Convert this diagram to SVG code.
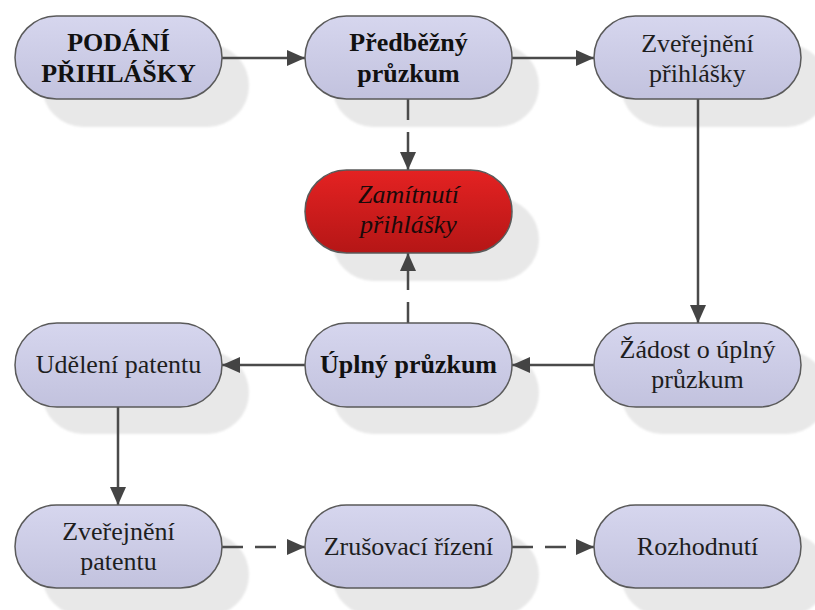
<svg xmlns="http://www.w3.org/2000/svg" width="815" height="610" viewBox="0 0 815 610">
<defs>
<linearGradient id="gb" x1="0" y1="0" x2="0" y2="1">
<stop offset="0" stop-color="#d6d6ee"/>
<stop offset="1" stop-color="#c2c2de"/>
</linearGradient>
<linearGradient id="gr" x1="0" y1="0" x2="0" y2="1">
<stop offset="0" stop-color="#e42222"/>
<stop offset="1" stop-color="#b51616"/>
</linearGradient>
<filter id="blur" x="-10%" y="-10%" width="120%" height="120%">
<feGaussianBlur stdDeviation="1.2"/>
</filter>
<marker id="ah" viewBox="0 0 18 16" refX="18" refY="8" markerWidth="18" markerHeight="16" markerUnits="userSpaceOnUse" orient="auto">
<path d="M0,0 L18,8 L0,16 z" fill="#444"/>
</marker>
</defs>
<style>
.sh{fill:#e8e8e8;filter:url(#blur)}
.n{fill:url(#gb);stroke:#5a5a5a;stroke-width:1.5}
.r{fill:url(#gr);stroke:#5a5a5a;stroke-width:1.5}
.c{stroke:#4a4a4a;stroke-width:2.5;fill:none;marker-end:url(#ah)}
.d{stroke-dasharray:21 12}
</style>
<rect width="815" height="610" fill="#ffffff"/>
<g id="shadows">
<rect class="sh" x="42" y="44" width="207" height="83" rx="41.5"/>
<rect class="sh" x="332" y="44" width="207" height="83" rx="41.5"/>
<rect class="sh" x="621" y="44" width="207" height="83" rx="41.5"/>
<rect class="sh" x="332" y="198" width="207" height="83" rx="41.5"/>
<rect class="sh" x="42" y="351" width="207" height="83" rx="41.5"/>
<rect class="sh" x="332" y="351" width="207" height="83" rx="41.5"/>
<rect class="sh" x="621" y="351" width="207" height="83" rx="41.5"/>
<rect class="sh" x="42" y="533" width="207" height="83" rx="41.5"/>
<rect class="sh" x="332" y="533" width="207" height="83" rx="41.5"/>
<rect class="sh" x="621" y="533" width="207" height="83" rx="41.5"/>
</g>
<g id="connectors">
<line class="c" x1="222" y1="58" x2="305" y2="58"/>
<line class="c" x1="512" y1="58" x2="594" y2="58"/>
<line class="c d" x1="408" y1="99" x2="408" y2="170"/>
<line class="c" x1="698" y1="99" x2="698" y2="323"/>
<line class="c d" x1="408" y1="323" x2="408" y2="253"/>
<line class="c" x1="594" y1="365" x2="512" y2="365"/>
<line class="c" x1="305" y1="365" x2="222" y2="365"/>
<line class="c" x1="118" y1="407" x2="118" y2="505"/>
<line class="c d" x1="222" y1="547" x2="305" y2="547"/>
<line class="c d" x1="512" y1="547" x2="594" y2="547"/>
</g>
<g id="n1" font-family="Liberation Serif" font-size="26" text-anchor="middle" font-weight="bold" fill="#111">
<rect class="n" x="15" y="16" width="207" height="83" rx="41.5"/>
<text x="118.5" y="50.5">PODÁNÍ</text>
<text x="118.5" y="81.5">PŘIHLÁŠKY</text>
</g>
<g id="n2" font-family="Liberation Serif" font-size="26" text-anchor="middle" font-weight="bold" fill="#111">
<rect class="n" x="305" y="16" width="207" height="83" rx="41.5"/>
<text x="408.5" y="50.5">Předběžný</text>
<text x="408.5" y="81.5">průzkum</text>
</g>
<g id="n3" font-family="Liberation Serif" font-size="26" text-anchor="middle" fill="#1e1e1e">
<rect class="n" x="594" y="16" width="207" height="83" rx="41.5"/>
<text x="697.5" y="51.5">Zveřejnění</text>
<text x="697.5" y="81.5">přihlášky</text>
</g>
<g id="n4" font-family="Liberation Serif" font-size="26" text-anchor="middle" font-style="italic" fill="#1a0a0a">
<rect class="r" x="305" y="170" width="207" height="83" rx="41.5"/>
<text x="408.5" y="203">Zamítnutí</text>
<text x="408.5" y="233">přihlášky</text>
</g>
<g id="n5" font-family="Liberation Serif" font-size="26" text-anchor="middle" fill="#1e1e1e">
<rect class="n" x="15" y="323" width="207" height="84" rx="42"/>
<text x="118.5" y="373">Udělení patentu</text>
</g>
<g id="n6" font-family="Liberation Serif" font-size="26" text-anchor="middle" font-weight="bold" fill="#111">
<rect class="n" x="305" y="323" width="207" height="84" rx="42"/>
<text x="408.5" y="373">Úplný průzkum</text>
</g>
<g id="n7" font-family="Liberation Serif" font-size="26" text-anchor="middle" fill="#1e1e1e">
<rect class="n" x="594" y="323" width="207" height="84" rx="42"/>
<text x="697.5" y="358">Žádost o úplný</text>
<text x="697.5" y="388">průzkum</text>
</g>
<g id="n8" font-family="Liberation Serif" font-size="26" text-anchor="middle" fill="#1e1e1e">
<rect class="n" x="15" y="505" width="207" height="83" rx="41.5"/>
<text x="118.5" y="540">Zveřejnění</text>
<text x="118.5" y="570">patentu</text>
</g>
<g id="n9" font-family="Liberation Serif" font-size="26" text-anchor="middle" fill="#1e1e1e">
<rect class="n" x="305" y="505" width="207" height="83" rx="41.5"/>
<text x="408.5" y="555">Zrušovací řízení</text>
</g>
<g id="n10" font-family="Liberation Serif" font-size="26" text-anchor="middle" fill="#1e1e1e">
<rect class="n" x="594" y="505" width="207" height="83" rx="41.5"/>
<text x="697.5" y="555">Rozhodnutí</text>
</g>
</svg>
